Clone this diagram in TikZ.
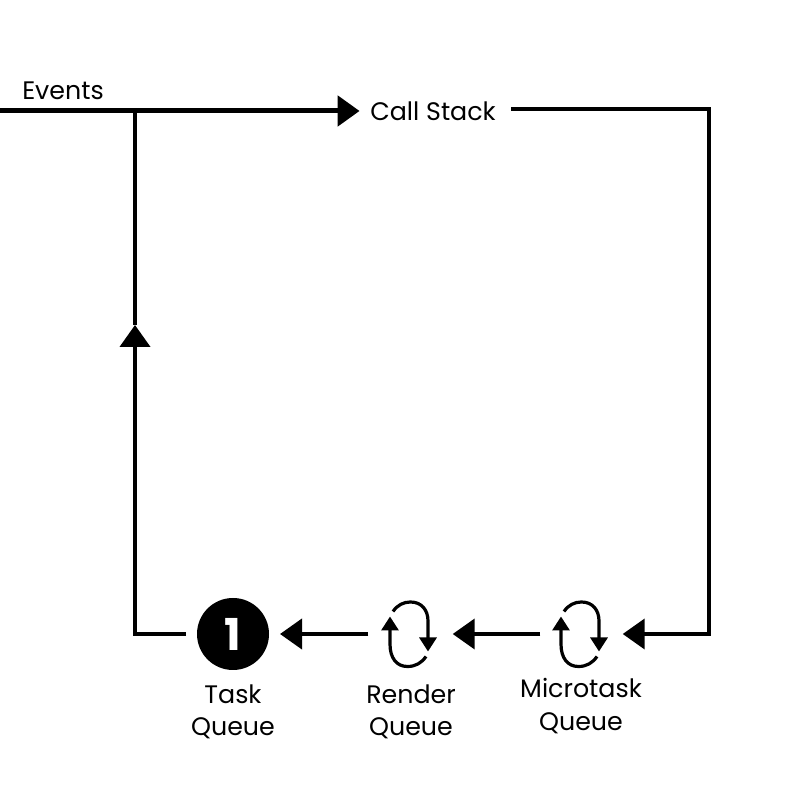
\documentclass[tikz,border=0pt]{standalone}
\usepackage{fontspec}
\setmainfont{Poppins}
\usetikzlibrary{arrows.meta,positioning}

\begin{document}
\begin{tikzpicture}[flow/.style={-{Triangle[length=.22cm,width=.3cm]},line width=.04cm},
    line/.style={line width=.04cm}, loop/.style={-{Triangle[length=.14cm,width=.17cm]},line width=.032cm}]
   \useasboundingbox (0,0) rectangle (8,8);
   \coordinate (start) at (0,6.89);
   \coordinate (join) at (1.35,6.89);
   \coordinate (up) at (1.35,4.75);
   \coordinate (corner1) at (7.09,6.91);
   \coordinate (corner2) at (7.09,1.66);
   \coordinate (corner3) at (1.35,1.66);
   \begin{scope}[every node/.style={font=\fontsize{7.2}{9.2}\selectfont,align=center}]
    \node (events) at (.63,7.09) {Events};
    \node (stack) [inner sep=.1cm] at (4.33,6.89) {Call Stack};
    \node (tasklabel) at (2.33,.88) {Task\\Queue};
    \node (renderlabel) at (4.11,.88) {Render\\Queue};
    \node (microlabel) at (5.81,.94) {Microtask\\Queue};
   \end{scope}
   \node (task) [circle,fill=black,text=white,minimum size=.72cm,inner sep=0pt,outer sep=.11cm,
     font=\fontsize{12.5}{13}\selectfont\bfseries] at (2.33,1.66) {1};
   \begin{scope}[every node/.style={minimum size=.83cm,inner sep=0pt}]
    \node (render) at (4.105,1.66) {};
    \node (micro) [minimum size=.81cm] at (5.815,1.66) {};
   \end{scope}
   \foreach \q in {render,micro} {
    \begin{scope}[shift={(\q.center)}]
     \draw [loop] (-.175,.225) .. controls (-.13,.29) and (-.07,.32) .. (0,.32)
       .. controls (.11,.32) and (.175,.24) .. (.175,.13) -- (.175,-.175);
     \draw [loop] (.155,-.225) .. controls (.11,-.29) and (.05,-.325) .. (-.03,-.325)
       .. controls (-.14,-.325) and (-.205,-.24) .. (-.205,-.1) -- (-.205,.175);
    \end{scope}
   }
   \draw [flow,line width=.05cm] (start) -- (stack.west);
   \draw [flow] ([xshift=.05cm]stack.east |- corner1) -- (corner1) -- (corner2) -- (micro.east);
   \draw [flow] (micro.west) -- (render.east);
   \draw [flow] (render.west) -- (task.east);
   \draw [flow] (task.west) -- (corner3) -- (up);
   \draw [line] (up) -- (join);
\end{tikzpicture}
\end{document}
